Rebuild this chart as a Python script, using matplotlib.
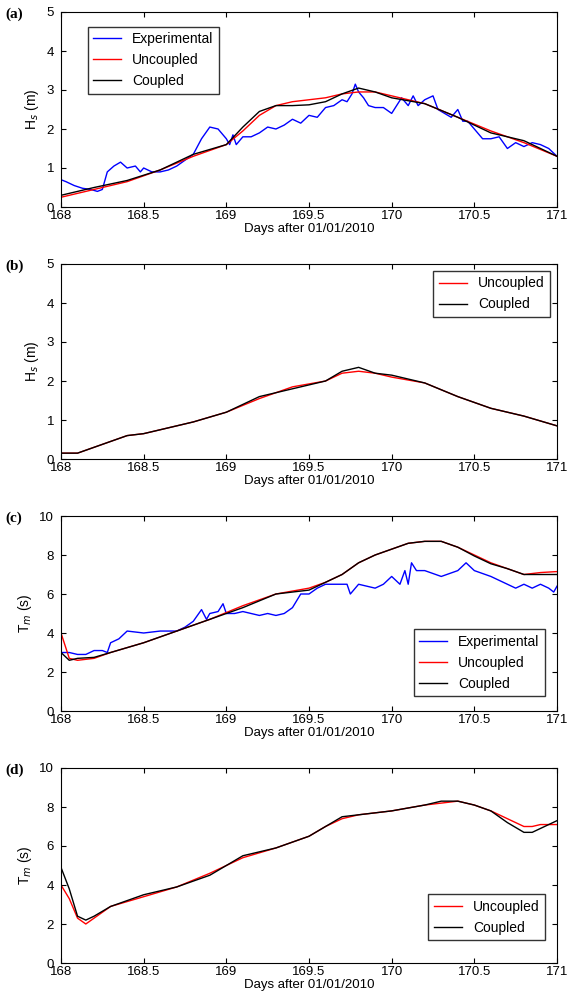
import matplotlib.pyplot as plt
import numpy as np

# panel (a) Hs
xa_exp = [168.0, 168.03, 168.08, 168.13, 168.18, 168.22, 168.25, 168.28, 168.32, 168.36, 168.4, 168.45, 168.48, 168.5, 168.55, 168.6, 168.65, 168.7, 168.75, 168.8, 168.85, 168.9, 168.95, 169.0, 169.02, 169.04, 169.06, 169.1, 169.15, 169.2, 169.25, 169.3, 169.35, 169.4, 169.45, 169.5, 169.55, 169.6, 169.65, 169.7, 169.73, 169.76, 169.78, 169.8, 169.83, 169.86, 169.9, 169.95, 170.0, 170.03, 170.06, 170.1, 170.13, 170.16, 170.2, 170.25, 170.28, 170.32, 170.36, 170.4, 170.43, 170.46, 170.5, 170.55, 170.6, 170.65, 170.7, 170.75, 170.8, 170.85, 170.9, 170.95, 171.0]
ya_exp = [0.7, 0.65, 0.55, 0.48, 0.45, 0.4, 0.45, 0.9, 1.05, 1.15, 1.0, 1.05, 0.9, 1.0, 0.9, 0.9, 0.95, 1.05, 1.2, 1.35, 1.75, 2.05, 2.0, 1.75, 1.6, 1.85, 1.6, 1.8, 1.8, 1.9, 2.05, 2.0, 2.1, 2.25, 2.15, 2.35, 2.3, 2.55, 2.6, 2.75, 2.7, 2.9, 3.15, 2.95, 2.8, 2.6, 2.55, 2.55, 2.4, 2.6, 2.8, 2.6, 2.85, 2.6, 2.75, 2.85, 2.5, 2.4, 2.3, 2.5, 2.2, 2.2, 2.0, 1.75, 1.75, 1.8, 1.5, 1.65, 1.55, 1.65, 1.6, 1.5, 1.3]
xa_mod = [168.0, 168.2, 168.4, 168.6, 168.8, 169.0, 169.1, 169.2, 169.3, 169.4, 169.5, 169.6, 169.7, 169.8, 169.9, 170.0, 170.2, 170.4, 170.6, 170.8, 171.0]
ya_unc = [0.25, 0.45, 0.65, 0.95, 1.3, 1.6, 1.95, 2.35, 2.6, 2.7, 2.75, 2.8, 2.9, 2.95, 2.95, 2.85, 2.65, 2.3, 1.95, 1.65, 1.3]
ya_cpl = [0.3, 0.5, 0.68, 0.95, 1.35, 1.6, 2.05, 2.45, 2.6, 2.6, 2.62, 2.7, 2.9, 3.05, 2.95, 2.8, 2.65, 2.3, 1.9, 1.7, 1.3]

# panel (b) Hs
xb = [168.0, 168.1, 168.2, 168.3, 168.4, 168.5, 168.6, 168.8, 169.0, 169.2, 169.4, 169.6, 169.7, 169.8, 169.9, 170.0, 170.2, 170.4, 170.6, 170.8, 171.0]
yb_unc = [0.15, 0.15, 0.3, 0.45, 0.6, 0.65, 0.75, 0.95, 1.2, 1.55, 1.85, 2.0, 2.2, 2.25, 2.2, 2.1, 1.95, 1.6, 1.3, 1.1, 0.85]
yb_cpl = [0.15, 0.15, 0.3, 0.45, 0.6, 0.65, 0.75, 0.95, 1.2, 1.6, 1.8, 2.0, 2.25, 2.35, 2.2, 2.15, 1.95, 1.6, 1.3, 1.1, 0.85]

# panel (c) Tm
xc_exp = [168.0, 168.05, 168.1, 168.15, 168.2, 168.25, 168.28, 168.3, 168.35, 168.4, 168.5, 168.6, 168.7, 168.75, 168.8, 168.85, 168.88, 168.9, 168.95, 168.98, 169.0, 169.05, 169.1, 169.2, 169.25, 169.3, 169.35, 169.4, 169.45, 169.5, 169.55, 169.6, 169.7, 169.73, 169.75, 169.8, 169.9, 169.95, 170.0, 170.05, 170.08, 170.1, 170.12, 170.15, 170.2, 170.3, 170.4, 170.45, 170.5, 170.6, 170.7, 170.75, 170.8, 170.85, 170.9, 170.95, 170.98, 171.0]
yc_exp = [3.0, 3.0, 2.9, 2.9, 3.1, 3.1, 3.0, 3.5, 3.7, 4.1, 4.0, 4.1, 4.1, 4.3, 4.6, 5.2, 4.7, 5.0, 5.1, 5.5, 5.0, 5.0, 5.1, 4.9, 5.0, 4.9, 5.0, 5.3, 6.0, 6.0, 6.3, 6.5, 6.5, 6.5, 6.0, 6.5, 6.3, 6.5, 6.9, 6.5, 7.2, 6.5, 7.6, 7.2, 7.2, 6.9, 7.2, 7.6, 7.2, 6.9, 6.5, 6.3, 6.5, 6.3, 6.5, 6.3, 6.1, 6.4]
xc_mod = [168.0, 168.05, 168.1, 168.2, 168.3, 168.5, 168.7, 168.9, 169.1, 169.3, 169.5, 169.6, 169.7, 169.8, 169.9, 170.0, 170.1, 170.2, 170.3, 170.4, 170.5, 170.6, 170.7, 170.8, 170.9, 171.0]
yc_unc = [4.0, 2.7, 2.6, 2.7, 3.0, 3.5, 4.1, 4.7, 5.4, 6.0, 6.3, 6.6, 7.0, 7.6, 8.0, 8.3, 8.6, 8.7, 8.7, 8.4, 8.0, 7.6, 7.3, 7.0, 7.1, 7.15]
yc_cpl = [3.0, 2.6, 2.7, 2.75, 3.0, 3.5, 4.1, 4.7, 5.3, 6.0, 6.2, 6.6, 7.0, 7.6, 8.0, 8.3, 8.6, 8.7, 8.7, 8.4, 7.95, 7.55, 7.3, 7.0, 7.0, 7.0]

# panel (d) Tm
xd = [168.0, 168.05, 168.1, 168.15, 168.2, 168.3, 168.5, 168.7, 168.9, 169.1, 169.3, 169.5, 169.6, 169.7, 169.8, 170.0, 170.2, 170.3, 170.4, 170.5, 170.6, 170.7, 170.8, 170.85, 170.9, 171.0]
yd_unc = [4.0, 3.3, 2.3, 2.0, 2.3, 2.9, 3.4, 3.9, 4.6, 5.4, 5.9, 6.5, 7.0, 7.4, 7.6, 7.8, 8.1, 8.2, 8.3, 8.1, 7.8, 7.4, 7.0, 7.0, 7.1, 7.1]
yd_cpl = [4.9, 3.8, 2.4, 2.2, 2.4, 2.9, 3.5, 3.9, 4.5, 5.5, 5.9, 6.5, 7.0, 7.5, 7.6, 7.8, 8.1, 8.3, 8.3, 8.1, 7.8, 7.2, 6.7, 6.7, 6.9, 7.3]

fig = plt.figure(figsize=(5.71, 9.97), dpi=100)
plt.rcParams['font.family'] = 'Liberation Sans'
W, H = 571.0, 997.0
L, R = 61, 557
tops = [12, 264, 516, 768]
ht = 195
labels = ['(a)', '(b)', '(c)', '(d)']
xt = [168, 168.5, 169, 169.5, 170, 170.5, 171]
xtl = ['168', '168.5', '169', '169.5', '170', '170.5', '171']

axes = []
for i, t in enumerate(tops):
    ax = fig.add_axes([L / W, 1 - (t + ht) / H, (R - L) / W, ht / H])
    axes.append(ax)
    ax.set_xlim(168, 171)
    ax.set_xticks(xt)
    ax.set_xticklabels(xtl)
    ax.tick_params(direction='in', top=True, right=True, labelsize=9.5, pad=2)
    ax.tick_params(axis='y', pad=5)
    ax.set_xlabel('Days after 01/01/2010', fontsize=9.5, labelpad=1)
    fig.text(5 / W, 1 - (t + 2) / H, labels[i], fontsize=11, fontweight='bold',
             family='Liberation Serif', va='center')

ax = axes[0]
ax.plot(xa_exp, ya_exp, color='#0000ff', lw=1, label='Experimental')
ax.plot(xa_mod, ya_unc, color='#ff0000', lw=1, label='Uncoupled')
ax.plot(xa_mod, ya_cpl, color='black', lw=1, label='Coupled')
ax.set_ylim(0, 5)
ax.set_ylabel('H$_s$ (m)', fontsize=10)
ax.legend(loc='upper left', bbox_to_anchor=(0.04, 0.96), fancybox=False, edgecolor='black', fontsize=10, borderpad=0.4)

ax = axes[1]
ax.plot(xb, yb_unc, color='#ff0000', lw=1, label='Uncoupled')
ax.plot(xb, yb_cpl, color='black', lw=1, label='Coupled')
ax.set_ylim(0, 5)
ax.set_ylabel('H$_s$ (m)', fontsize=10)
ax.legend(loc='upper right', fancybox=False, edgecolor='black', fontsize=10)

ax = axes[2]
ax.plot(xc_exp, yc_exp, color='#0000ff', lw=1, label='Experimental')
ax.plot(xc_mod, yc_unc, color='#ff0000', lw=1, label='Uncoupled')
ax.plot(xc_mod, yc_cpl, color='black', lw=1, label='Coupled')
ax.set_ylim(0, 10)
ax.set_ylabel('T$_m$ (s)', fontsize=10)
ax.legend(loc='lower right', bbox_to_anchor=(0.99, 0.04), fancybox=False, edgecolor='black', fontsize=10)

ax = axes[3]
ax.plot(xd, yd_unc, color='#ff0000', lw=1, label='Uncoupled')
ax.plot(xd, yd_cpl, color='black', lw=1, label='Coupled')
ax.set_ylim(0, 10)
ax.set_ylabel('T$_m$ (s)', fontsize=10)
ax.legend(loc='lower right', bbox_to_anchor=(0.99, 0.08), fancybox=False, edgecolor='black', fontsize=10)

fig.savefig('out.png', dpi=100)
